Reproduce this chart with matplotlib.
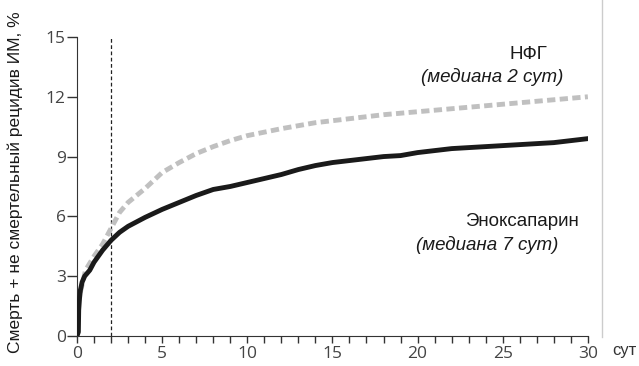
import numpy as np
import matplotlib.pyplot as plt
from matplotlib.lines import Line2D
from matplotlib.ticker import MultipleLocator

# Эноксапарин (сплошная чёрная)
enox_x = [0, 0.08, 0.1, 0.15, 0.2, 0.3, 0.45, 0.75, 1, 1.5, 2, 2.5, 3, 4, 5, 6, 7, 8, 9, 10,
          11, 12, 13, 14, 15, 16, 17, 18, 19, 20, 21, 22, 23, 24, 25, 26, 27, 28, 29, 30]
enox_y = [0, 0.2, 1.3, 1.9, 2.3, 2.7, 3.0, 3.3, 3.7, 4.3, 4.8, 5.2, 5.5, 5.95, 6.35, 6.7, 7.05, 7.35,
          7.5, 7.7, 7.9, 8.1, 8.35, 8.55, 8.7, 8.8, 8.9, 9.0, 9.05, 9.2, 9.3, 9.4, 9.45, 9.5,
          9.55, 9.6, 9.65, 9.7, 9.8, 9.9]

# НФГ (серая пунктирная)
ufh_x = [0.2, 0.5, 1, 1.5, 2, 2.5, 3, 4, 5, 6, 7, 8, 9, 10, 12, 14, 16, 18, 20, 22, 24, 26, 28, 30]
ufh_y = [2.2, 3.3, 4.0, 4.6, 5.4, 6.2, 6.7, 7.4, 8.2, 8.7, 9.15, 9.5, 9.8, 10.05, 10.4, 10.7,
         10.9, 11.1, 11.25, 11.4, 11.55, 11.7, 11.85, 12.0]

x_ticks = [0, 5, 10, 15, 20, 25, 30]
y_ticks = [0, 3, 6, 9, 12, 15]

plt.rcParams['font.family'] = ['Liberation Sans', 'DejaVu Sans']

fig = plt.figure(figsize=(6.39, 3.66), dpi=100)
ax = fig.add_axes([0.1205, 0.082, 0.7995, 0.817])

ax.plot(ufh_x, ufh_y, color='#c0c0c0', lw=3.5, dashes=(1.7, 0.9), zorder=2)
ax.plot(enox_x, enox_y, color='#1a1a1a', lw=3.5, zorder=3)
ax.plot([2, 2], [0, 15], color='#222222', lw=0.9, ls=(0, (3, 2)), zorder=1)

ax.set_xlim(0, 30)
ax.set_ylim(0, 15)
ax.set_xticks(x_ticks)
ax.set_yticks(y_ticks)
ax.xaxis.set_minor_locator(MultipleLocator(1))
ax.tick_params(axis='x', which='both', length=5, width=1, color='#333333',
               labelsize=12.5, labelcolor='#444444', pad=2)
ax.tick_params(axis='y', length=7, width=1, color='#333333',
               labelsize=12.5, labelcolor='#444444', pad=1)
for lab in ax.get_xticklabels() + ax.get_yticklabels():
    lab.set_family('Open Sans')

ax.spines['top'].set_visible(False)
ax.spines['right'].set_visible(False)
ax.spines['left'].set_color('#333333')
ax.spines['bottom'].set_color('#333333')

ax.set_ylabel('Смерть + не смертельный рецидив ИМ, %', fontsize=12.5, color='#1a1a1a')
ax.yaxis.set_label_coords(-0.105, 0.515)

ax.text(26.5, 13.9, 'НФГ', fontsize=13.5, ha='center', color='#1a1a1a')
ax.text(24.4, 12.72, '(медиана 2 сут)', fontsize=13.5, ha='center', style='italic', color='#1a1a1a')
ax.text(26.1, 5.5, 'Эноксапарин', fontsize=13.5, ha='center', color='#1a1a1a')
ax.text(24.1, 4.3, '(медиана 7 сут)', fontsize=13.5, ha='center', style='italic', color='#1a1a1a')

fig.text(0.958, 0.03, 'сут', fontsize=12, color='#333333', ha='left')
fig.add_artist(Line2D([0.942, 0.942], [0.079, 1.0], color='#cccccc', lw=1))

fig.savefig('out.png', dpi=100)
